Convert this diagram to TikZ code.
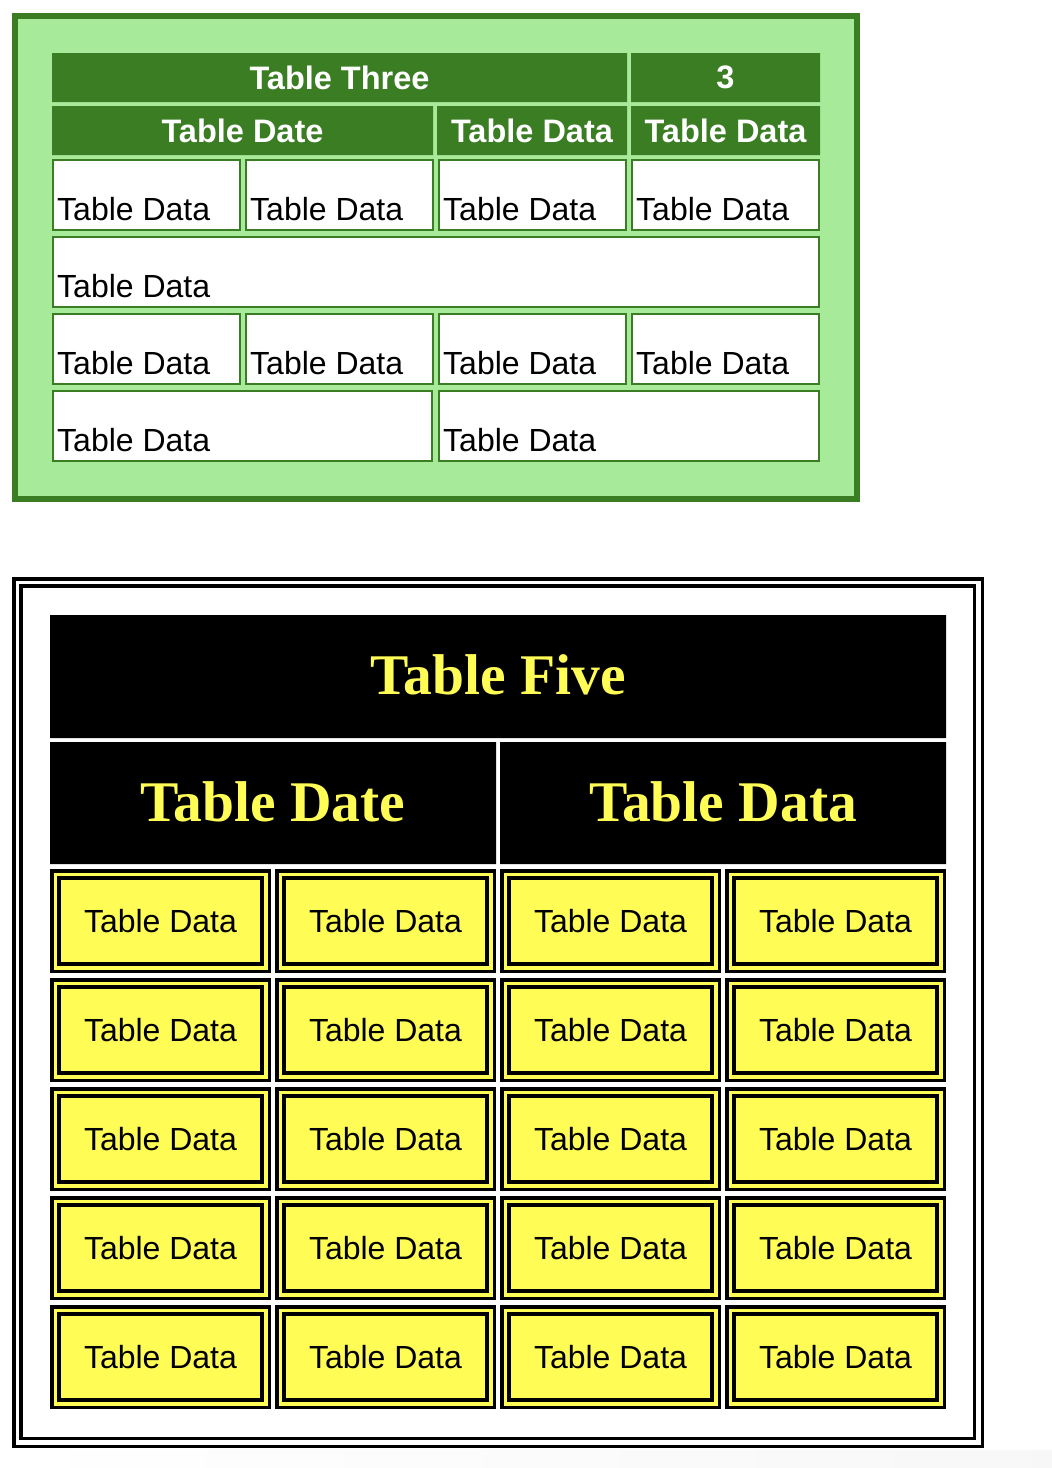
\documentclass[tikz,border=0pt]{standalone}
\usepackage{fontspec}
\setmainfont{Liberation Sans}
\newfontfamily\chuchan{Liberation Serif}
\definecolor{xanhdam}{HTML}{3A7D23}
\definecolor{xanhnhat}{HTML}{A7EA9A}
\definecolor{vang}{HTML}{FFFC55}
\begin{document}
\begin{tikzpicture}[x=1pt,y=-1pt,
	chu/.style={inner sep=0pt,font=\fontsize{32}{36}\selectfont},
	tieude/.style={inner sep=0pt,text=white,font=\bfseries\fontsize{32.5}{36}\selectfont},
	tieudeden/.style={inner sep=0pt,text=vang,font=\chuchan\bfseries\fontsize{57.5}{62}\selectfont},
	o/.style={line width=2,draw=xanhdam,fill=white}]
	\useasboundingbox (0,0) rectangle (1052,1468);
	\shade[left color=white,right color=black!3] (0,1450) rectangle (1052,1468);
	%	Bảng ba
	\draw[line width=6,draw=xanhdam,fill=xanhnhat] (15,16) rectangle (857,499);
	\fill[xanhdam] (52,53) rectangle (627,102) (631,53) rectangle (820,102)
	(52,106) rectangle (433,155) (437,106) rectangle (627,155) (631,106) rectangle (820,155);
	\node[tieude] (t3) at (339.5,77.5) {Table Three};
	\node[tieude] (so) at (725.5,77.5) {3};
	\foreach \x/\t [count=\i] in {242.5/Table Date,532/Table Data,725.5/Table Data}
		\node[tieude] (h\i) at (\x,130.5) {\t};
	\foreach \x/\y [count=\i] in {52/159,245/159,438/159,631/159,52/313,245/313,438/313,631/313}
		{\draw[o] (\x+1,\y+1) rectangle (\x+188,\y+71);
		\node[chu,anchor=base west] (d\i) at (\x+5,\y+61) {Table Data};}
	\foreach \x/\w/\y [count=\i] in {52/768/236,52/381/390,438/382/390}
		{\draw[o] (\x+1,\y+1) rectangle (\x+\w-1,\y+71);
		\node[chu,anchor=base west] (r\i) at (\x+5,\y+61) {Table Data};}
	%	Bảng năm
	\draw[line width=3.5] (13.75,578.75) rectangle (982.25,1446.25) (20.75,585.75) rectangle (974.25,1438.25);
	\fill (50,615) rectangle (946,738) (50,742) rectangle (496,864) (500,742) rectangle (946,864);
	\node[tieudeden] (t5) at (498,675) {Table Five};
	\node[tieudeden] (k1) at (273,802) {Table Date};
	\node[tieudeden] (k2) at (723,802) {Table Data};
	\foreach \c in {0,...,3}
		\foreach \r in {0,...,4}{
			\draw[line width=3.5,fill=vang] ({51.75+225*\c},{870.75+109*\r}) rectangle ({269.25+225*\c},{971.25+109*\r});
			\draw[line width=3.5] ({59+225*\c},{878+109*\r}) rectangle ({262+225*\c},{964+109*\r});
			\node[chu] (o\c\r) at ({160.5+225*\c},{921+109*\r}) {Table Data};
		}
\end{tikzpicture}
\end{document}
